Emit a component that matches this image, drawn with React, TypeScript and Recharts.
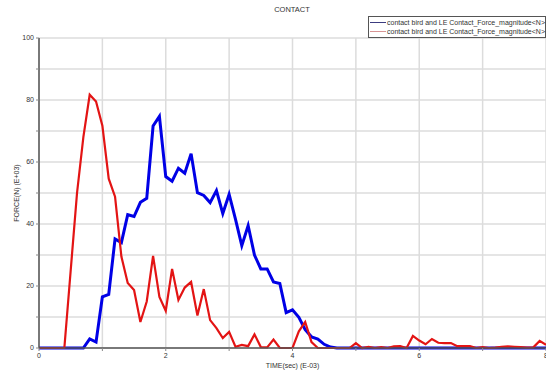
import { CartesianGrid, Label, Legend, Line, LineChart, XAxis, YAxis } from "recharts"

const time = [
  0, 0.1, 0.2, 0.3, 0.4, 0.5, 0.6, 0.7, 0.8, 0.9,
  1, 1.1, 1.2, 1.3, 1.4, 1.5, 1.6, 1.7, 1.8, 1.9,
  2, 2.1, 2.2, 2.3, 2.4, 2.5, 2.6, 2.7, 2.8, 2.9,
  3, 3.1, 3.2, 3.3, 3.4, 3.5, 3.6, 3.7, 3.8, 3.9,
  4, 4.1, 4.2, 4.3, 4.4, 4.5, 4.6, 4.7, 4.8, 4.9,
  5, 5.1, 5.2, 5.3, 5.4, 5.5, 5.6, 5.7, 5.8, 5.9,
  6, 6.1, 6.2, 6.3, 6.4, 6.5, 6.6, 6.7, 6.8, 6.9,
  7, 7.1, 7.2, 7.3, 7.4, 7.5, 7.6, 7.7, 7.8, 7.9,
  8,
]

// blue curve
const forceA = [
  0, 0, 0, 0, 0, 0, 0, 0, 2.9, 1.9,
  16.5, 17.3, 35.2, 34, 43, 42.4, 47, 48.3, 71.6, 74.7,
  55.3, 53.8, 58, 56.4, 62.7, 50.1, 49.2, 46.9, 50.8, 43.4,
  49.6, 41.6, 33, 39.5, 30, 25.5, 25.5, 21.3, 20.8, 11.4,
  12.3, 9.9, 5.9, 3.6, 2.9, 1.2, 0.3, 0, 0, 0,
  0, 0, 0, 0, 0, 0, 0, 0, 0, 0,
  0, 0, 0, 0, 0, 0, 0, 0, 0, 0,
  0, 0, 0, 0, 0, 0, 0, 0, 0, 0,
  0,
]

// red curve
const forceB = [
  0, 0, 0, 0, 0, 25, 50, 68, 81.7, 79.5,
  71.7, 54.6, 48.8, 29.5, 21, 18.7, 8.4, 15, 29.7, 16.5,
  12, 25.5, 15.5, 19.5, 21.3, 10.5, 19, 9, 6.4, 3.2,
  5.2, 0.4, 1, 0.6, 4.4, 0.3, 0.2, 2.7, 0, 0,
  0, 5.4, 8.4, 1.9, 0, 0, 0, 0, 0, 0,
  1.6, 0, 0.4, 0, 0.3, 0, 0.5, 0.6, 0, 3.9,
  2.4, 1.2, 2.9, 1.7, 1.6, 1.6, 0.6, 0.6, 0.6, 0,
  0.3, 0, 0.1, 0.4, 0.5, 0.4, 0.3, 0.1, 0.2, 2.3,
  1,
]

const xTicks = [0, 1, 2, 3, 4, 5, 6, 7, 8]
const yTicks = [0, 10, 20, 30, 40, 50, 60, 70, 80, 90, 100]
const seriesName = "contact bird and LE Contact_Force_magnitude<N>"

const data = time.map((t, i) => ({ t, a: forceA[i], b: forceB[i] }))

const font = "'Liberation Sans', Arial, sans-serif"

function LegendBox() {
  const rows = [
    { color: "#3c3c80" },
    { color: "#d89494" },
  ]
  return (
    <div
      style={{
        border: "1px solid #555",
        background: "#fff",
        padding: "1px 0 1px 1px",
        fontFamily: font,
        fontSize: 7,
        color: "#333",
        lineHeight: "9px",
      }}
    >
      {rows.map((r, i) => (
        <div key={i} style={{ display: "flex", alignItems: "center", whiteSpace: "nowrap" }}>
          <span style={{ width: 19, height: 1, background: r.color, marginRight: 1, display: "inline-block" }} />
          {seriesName}
        </div>
      ))}
    </div>
  )
}

export default function App() {
  return (
    <div style={{ position: "absolute", left: 0, top: 0, width: 546, height: 370, background: "#fff" }}>
      <div
        style={{
          position: "absolute",
          top: 5,
          left: 0,
          width: 584,
          textAlign: "center",
          fontFamily: font,
          fontSize: 7.5,
          color: "#333",
        }}
      >
        CONTACT
      </div>
      <LineChart width={546} height={370} data={data} margin={{ top: 16, right: 0, left: 0, bottom: 0 }}>
        <CartesianGrid stroke="#dcdcdc" strokeWidth={1.5} />
        <XAxis
          dataKey="t"
          type="number"
          domain={[0, 8]}
          ticks={xTicks}
          interval={0}
          height={22}
          tickSize={3}
          tickLine={{ stroke: "#888" }}
          axisLine={{ stroke: "#555", strokeWidth: 1.5 }}
          tick={{ fontSize: 7, fill: "#333", fontFamily: font }}
          tickFormatter={(v: number) => (v % 2 === 0 ? String(v) : "")}
        >
          <Label
            value="TIME(sec) (E-03)"
            position="insideBottom"
            offset={2}
            style={{ fontSize: 7, fill: "#333", fontFamily: font }}
          />
        </XAxis>
        <YAxis
          type="number"
          domain={[0, 100]}
          ticks={yTicks}
          interval={0}
          width={39}
          tickSize={3}
          tickLine={{ stroke: "#888" }}
          axisLine={{ stroke: "#555", strokeWidth: 1.5 }}
          tick={{ fontSize: 7, fill: "#333", fontFamily: font }}
          tickFormatter={(v: number) => (v % 20 === 0 ? String(v) : "")}
        >
          <Label
            value="FORCE(N) (E+03)"
            angle={-90}
            position="insideLeft"
            offset={17}
            style={{ fontSize: 7, fill: "#333", fontFamily: font, textAnchor: "middle" }}
          />
        </YAxis>
        <Legend
          verticalAlign="top"
          align="right"
          content={() => <LegendBox />}
          wrapperStyle={{ top: 16, left: 368, width: 178 }}
        />
        <Line
          dataKey="a"
          name={seriesName}
          stroke="#0000e6"
          strokeWidth={3}
          dot={false}
          isAnimationActive={false}
        />
        <Line
          dataKey="b"
          name={seriesName}
          stroke="#e31414"
          strokeWidth={2.2}
          dot={false}
          isAnimationActive={false}
        />
      </LineChart>
    </div>
  )
}
